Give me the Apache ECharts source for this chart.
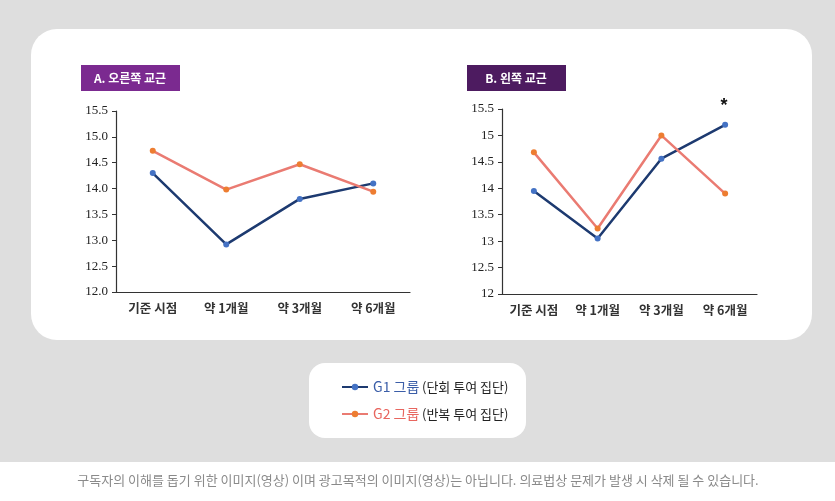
<!DOCTYPE html>
<html>
<head>
<meta charset="utf-8">
<script src="https://cdn.jsdelivr.net/npm/echarts@6/dist/echarts.min.js"></script>
<style>
  html, body { margin: 0; padding: 0; background: #fff; }
  #main { width: 835px; height: 501px; }
</style>
</head>
<body>
<div id="main"></div>
<script>
// 데이터
var categories = ['기준 시점', '약 1개월', '약 3개월', '약 6개월'];
var g1Right = [14.3, 12.92, 13.8, 14.1];
var g2Right = [14.73, 13.98, 14.47, 13.94];
var g1Left = [13.95, 13.05, 14.56, 15.2];
var g2Left = [14.68, 13.24, 15.0, 13.9];
var g1Name = 'G1 그룹 (단회 투여 집단)';
var g2Name = 'G2 그룹 (반복 투여 집단)';

var KR = '"Noto Sans CJK KR", "Noto Sans", sans-serif';
var myChart = echarts.init(document.getElementById('main'));

function yAxis(idx, fixed) {
    return {
        gridIndex: idx, type: 'value', min: 12, max: 15.5, interval: 0.5,
        axisLine: { show: true, lineStyle: { color: '#333', width: 1.2 } },
        axisTick: { show: true, length: 4, lineStyle: { color: '#333' } },
        splitLine: { show: false },
        axisLabel: {
            fontFamily: '"Liberation Serif", serif', fontSize: 13, color: '#222', margin: 8,
            formatter: function (v) { return fixed ? v.toFixed(1) : String(v); }
        }
    };
}
function xAxis(idx) {
    return {
        gridIndex: idx, type: 'category', data: categories,
        axisLine: { lineStyle: { color: '#333', width: 1.2 } },
        axisTick: { show: false },
        axisLabel: { fontFamily: KR, fontSize: 12.5, fontWeight: 'bold', color: '#333', margin: 10 }
    };
}
function g1Series(idx, data) {
    return {
        name: g1Name, type: 'line', xAxisIndex: idx, yAxisIndex: idx, data: data,
        symbol: 'circle', symbolSize: 6,
        lineStyle: { color: '#1d3a70', width: 2.5 },
        itemStyle: { color: '#4472c4' }
    };
}
function g2Series(idx, data) {
    return {
        name: g2Name, type: 'line', xAxisIndex: idx, yAxisIndex: idx, data: data,
        symbol: 'circle', symbolSize: 6,
        lineStyle: { color: '#ea7b72', width: 2.5 },
        itemStyle: { color: '#ed7d31' }
    };
}

// 마지막 점 위에 * 표시
var g1LeftData = g1Left.map(function (v, i) {
    if (i === g1Left.length - 1) {
        return { value: v, label: { show: true, position: 'top', formatter: '*', fontSize: 18, fontWeight: 'bold', color: '#111', offset: [-1, -2] } };
    }
    return v;
});

var option = {
    animation: false,
    backgroundColor: '#fff',
    graphic: [
        { type: 'rect', shape: { x: 0, y: 0, width: 835, height: 462 }, style: { fill: '#dedede' }, z: -10 },
        { type: 'rect', shape: { x: 31, y: 29, width: 781, height: 311, r: 26 }, style: { fill: '#fff' }, z: -9 },
        { type: 'rect', shape: { x: 309, y: 363, width: 217, height: 75, r: 16 }, style: { fill: '#fff' }, z: -9 },
        { type: 'rect', shape: { x: 81, y: 65, width: 99, height: 26 }, style: { fill: '#7b2a90' } },
        { type: 'text', x: 130, y: 78, style: { text: 'A. 오른쪽 교근', fill: '#fff', font: 'bold 12px ' + KR, textAlign: 'center', textVerticalAlign: 'middle' } },
        { type: 'rect', shape: { x: 467, y: 65, width: 99, height: 26 }, style: { fill: '#4d1b60' } },
        { type: 'text', x: 516, y: 78, style: { text: 'B. 왼쪽 교근', fill: '#fff', font: 'bold 12px ' + KR, textAlign: 'center', textVerticalAlign: 'middle' } },
        { type: 'text', x: 418, y: 480, style: { text: '구독자의 이해를 돕기 위한 이미지(영상) 이며 광고목적의 이미지(영상)는 아닙니다. 의료법상 문제가 발생 시 삭제 될 수 있습니다.', fill: '#8a8a8a', font: '13px ' + KR, textAlign: 'center', textVerticalAlign: 'middle' } }
    ],
    legend: {
        data: [g1Name, g2Name],
        orient: 'vertical', left: 336, top: 375, itemGap: 13,
        itemWidth: 26, itemHeight: 8,
        selectedMode: false,
        formatter: function (name) {
            return name === g1Name ? '{b|G1 그룹} {d|(단회 투여 집단)}' : '{o|G2 그룹} {d|(반복 투여 집단)}';
        },
        textStyle: {
            fontFamily: KR,
            rich: {
                b: { color: '#3b5ea8', fontSize: 14, fontFamily: KR, height: 16 },
                o: { color: '#e8665f', fontSize: 14, fontFamily: KR, height: 16 },
                d: { color: '#222', fontSize: 13, fontFamily: KR, height: 16 }
            }
        }
    },
    grid: [
        { left: 116, top: 111, right: 425, bottom: 209 },
        { left: 502, top: 109, right: 78, bottom: 207 }
    ],
    xAxis: [xAxis(0), xAxis(1)],
    yAxis: [yAxis(0, true), yAxis(1, false)],
    series: [
        g1Series(0, g1Right),
        g2Series(0, g2Right),
        g1Series(1, g1LeftData),
        g2Series(1, g2Left)
    ]
};

myChart.setOption(option);
</script>
</body>
</html>
